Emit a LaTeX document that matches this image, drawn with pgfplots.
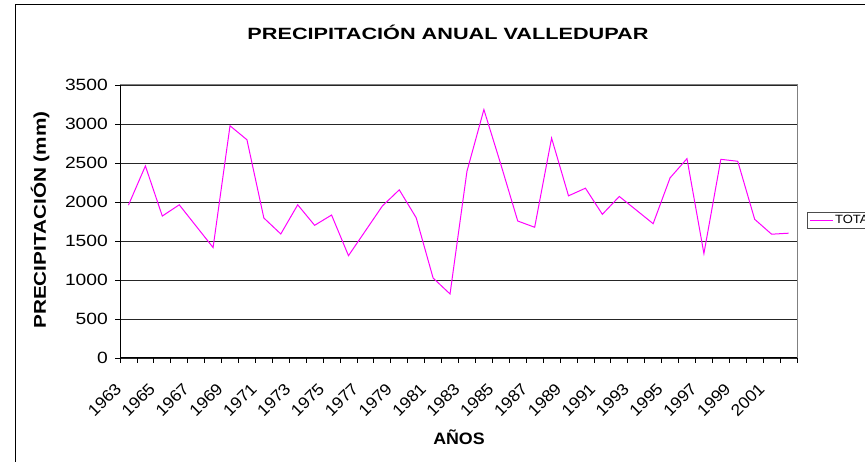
\documentclass[border=0pt]{standalone}
\usepackage{pgfplots}
\pgfplotsset{compat=1.18}
\usepackage{fontspec}
\setmainfont{Liberation Sans}
\newfontfamily\titlefont{Liberation Sans}[FakeStretch=1.33]
\newfontfamily\labelfont{Liberation Sans}[FakeStretch=1.22]
\newfontfamily\tickfont{Liberation Sans}[FakeStretch=1.08]
\newfontfamily\ytickfont{Liberation Sans}[FakeStretch=1.18]
\begin{document}
\begin{tikzpicture}[x=1pt,y=1pt]
\path[use as bounding box] (0,0) rectangle (865,462);
\clip (0,0) rectangle (865,462);
\fill[white] (0,0) rectangle (865,462);
\draw[black, line width=1pt] (15,-20) rectangle (900,457);
\node[font=\titlefont\fontsize{16.3}{18}\selectfont\bfseries] at (448,430) {PRECIPITACIÓN ANUAL VALLEDUPAR};
\begin{axis}[
  at={(120pt,104pt)}, anchor=south west,
  scale only axis, width=677pt, height=273pt,
  xmin=1962.5, xmax=2002.5, ymin=0, ymax=3500,
  /pgf/number format/1000 sep={},
  /pgf/number format/assume math mode=true,
  xtick={1963,1965,...,2001},
  minor xtick={1962.5,1963.5,...,2002.5},
  ytick={0,500,...,3500},
  tick pos=left,
  major x tick style={draw=none},
  tick align=outside,
  major tick length=5pt, minor tick length=5pt,
  tick style={black, line width=0.8pt},
  ymajorgrids, major grid style={black!85, line width=0.9pt},
  axis line style={black!50, line width=1pt},
  xticklabel style={font=\tickfont\fontsize{16.3}{18}\selectfont, xshift=-10pt, yshift=-23pt, rotate=45, anchor=east, inner sep=0pt},
  yticklabel style={font=\ytickfont\fontsize{16.3}{18}\selectfont, inner sep=0pt, xshift=-7pt},
  ylabel={PRECIPITACIÓN (mm)},
  xlabel={AÑOS},
  every axis y label/.style={at={(-80pt,138pt)}, rotate=90, anchor=center,
     font=\labelfont\fontsize{17}{18}\selectfont\bfseries},
  every axis x label/.style={at={(339pt,-79pt)}, anchor=center,
     font=\tickfont\fontsize{16.5}{18}\selectfont\bfseries},
  legend style={at={(axis description cs:1.0148,0.504)}, anchor=west,
    font=\tickfont\fontsize{12}{13}\selectfont, draw=black!70, line width=0.8pt,
    inner xsep=2pt, inner ysep=1.5pt},
  legend image code/.code={\draw[#1, line width=0.8pt] (0pt,0pt) -- (23pt,0pt);},
]
\addplot[color={rgb,255:red,255;green,0;blue,255}, line width=1pt, mark=none] coordinates {
(1963,1960) (1964,2462) (1965,1820) (1966,1964) (1967,1690) (1968,1416)
(1969,2977) (1970,2798) (1971,1795) (1972,1590) (1973,1964) (1974,1701)
(1975,1833) (1976,1312) (1977,1630) (1978,1948) (1979,2156) (1980,1798)
(1981,1025) (1982,821) (1983,2394) (1984,3185) (1985,2483) (1986,1756)
(1987,1676) (1988,2819) (1989,2079) (1990,2177) (1991,1842) (1992,2071)
(1993,1897) (1994,1722) (1995,2309) (1996,2556) (1997,1339) (1998,2547)
(1999,2522) (2000,1778) (2001,1587) (2002,1600)
};
\addlegendentry{TOTAL}
\draw[black, line width=1pt] (rel axis cs:0,1) -- (rel axis cs:0,0) -- (rel axis cs:1,0);
\end{axis}
\end{tikzpicture}
\end{document}
